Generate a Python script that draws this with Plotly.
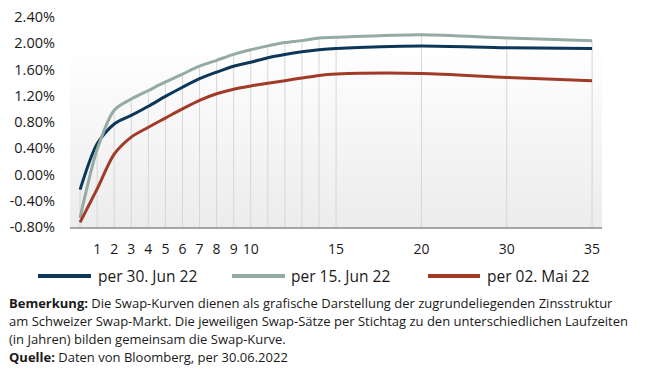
import base64
import plotly.graph_objects as go

# ---- data ----
maturities = [0, 1, 2, 3, 4, 5, 6, 7, 8, 9, 10, 11, 12, 13, 14, 15, 20, 30, 35]
tick_labels = ["", "1", "2", "3", "4", "5", "6", "7", "8", "9", "10", "", "", "", "", "15", "20", "30", "35"]
jun30 = [-0.23, 0.47, 0.77, 0.90, 1.04, 1.19, 1.33, 1.46, 1.56, 1.65, 1.71, 1.78, 1.83, 1.87, 1.90, 1.92, 1.96, 1.93, 1.92]
jun15 = [-0.66, 0.38, 0.98, 1.15, 1.28, 1.41, 1.53, 1.65, 1.74, 1.83, 1.90, 1.96, 2.01, 2.04, 2.08, 2.09, 2.13, 2.08, 2.04]
mai02 = [-0.73, -0.22, 0.31, 0.57, 0.72, 0.86, 1.00, 1.13, 1.23, 1.30, 1.35, 1.39, 1.43, 1.47, 1.51, 1.53, 1.54, 1.48, 1.43]
series_names = ["per 30. Jun 22", "per 15. Jun 22", "per 02. Mai 22"]
y_ticks = [-0.8, -0.4, 0.0, 0.4, 0.8, 1.2, 1.6, 2.0, 2.4]

# ---- styles ----
colors = ["#0c3759", "#94aba3", "#a13a27"]
FONT = "Open Sans"
TXT = "#1a1a1a"

# axis positions: spacing between consecutive maturities capped at 5 slots
pos = [0]
for a, b in zip(maturities[:-1], maturities[1:]):
    pos.append(pos[-1] + min(b - a, 5))

W, H = 653, 370
L, R, T, B = 70, 51, 17, 143
X0, X1 = -0.59, pos[-1] + 0.58
Y0, Y1 = -0.8, 2.4


def px_x(px):
    return (px - L) / (W - L - R)


def px_y(py):
    return (H - B - py) / (H - T - B)


fig = go.Figure()

# drop lines from the top curve down to the axis
dx, dy = [], []
for i, p in enumerate(pos):
    top = max(jun30[i], jun15[i], mai02[i])
    dx += [p, p, None]
    dy += [Y0, top, None]
fig.add_trace(go.Scatter(x=dx, y=dy, mode="lines", line=dict(color="#d6d6d6", width=1),
                         hoverinfo="skip", showlegend=False))

for name, vals, c in zip(series_names, [jun30, jun15, mai02], colors):
    fig.add_trace(go.Scatter(x=pos, y=vals, mode="lines", name=name,
                             line=dict(color=c, width=3, shape="spline", smoothing=0.8),
                             showlegend=False))

# gradient plot background
svg = ('<svg xmlns="http://www.w3.org/2000/svg" width="100" height="100" preserveAspectRatio="none">'
       '<defs><linearGradient id="g" x1="0" y1="0" x2="0" y2="1">'
       '<stop offset="0" stop-color="#ffffff"/><stop offset="1" stop-color="#ececec"/>'
       '</linearGradient></defs><rect width="100" height="100" fill="url(#g)"/></svg>')
src = "data:image/svg+xml;base64," + base64.b64encode(svg.encode()).decode()
fig.add_layout_image(dict(source=src, xref="x", yref="y", x=X0, y=2.0, sizex=X1 - X0,
                          sizey=2.0 - Y0, xanchor="left", yanchor="top", sizing="stretch",
                          layer="below"))

# custom legend
leg_items = [(38, 91, 96), (232, 285, 289), (428, 480, 485)]
for (a, b, t), name, c in zip(leg_items, series_names, colors):
    fig.add_shape(type="line", xref="paper", yref="paper", x0=px_x(a), x1=px_x(b),
                  y0=px_y(276), y1=px_y(276), line=dict(color=c, width=4))
    fig.add_annotation(text=name, xref="paper", yref="paper", x=px_x(t), y=px_y(276),
                       xanchor="left", yanchor="middle", showarrow=False,
                       font=dict(family=FONT, size=15.5, color=TXT))

caption = [
    "<b>Bemerkung:</b> Die Swap-Kurven dienen als grafische Darstellung der zugrundeliegenden Zinsstruktur",
    "am Schweizer Swap-Markt. Die jeweiligen Swap-Sätze per Stichtag zu den unterschiedlichen Laufzeiten",
    "(in Jahren) bilden gemeinsam die Swap-Kurve.",
    "<b>Quelle:</b> Daten von Bloomberg, per 30.06.2022",
]
for line, py in zip(caption, [303, 321, 339, 357]):
    fig.add_annotation(text=line, xref="paper", yref="paper", x=px_x(7), y=px_y(py),
                       xanchor="left", yanchor="middle", showarrow=False,
                       font=dict(family=FONT, size=13, color=TXT))

fig.update_layout(
    width=W, height=H, margin=dict(l=L, r=R, t=T, b=B, autoexpand=False),
    paper_bgcolor="white", plot_bgcolor="rgba(0,0,0,0)",
    font=dict(family=FONT, color=TXT),
    xaxis=dict(range=[X0, X1], tickvals=pos, ticktext=tick_labels, showgrid=False,
               zeroline=False, showline=True, linecolor="#a6a6a6", linewidth=2,
               ticks="", ticklabelstandoff=8, automargin=False,
               tickfont=dict(family=FONT, size=14, color=TXT)),
    yaxis=dict(range=[Y0, Y1], tickvals=y_ticks, ticktext=[f"{v:.2f}%" for v in y_ticks],
               showgrid=False, zeroline=False, showline=False, ticks="", automargin=False,
               ticklabelstandoff=14, tickfont=dict(family=FONT, size=14.5, color=TXT)),
)

fig.write_html("out.html", config={"displayModeBar": False},
               post_script="document.body.style.margin='0';")
